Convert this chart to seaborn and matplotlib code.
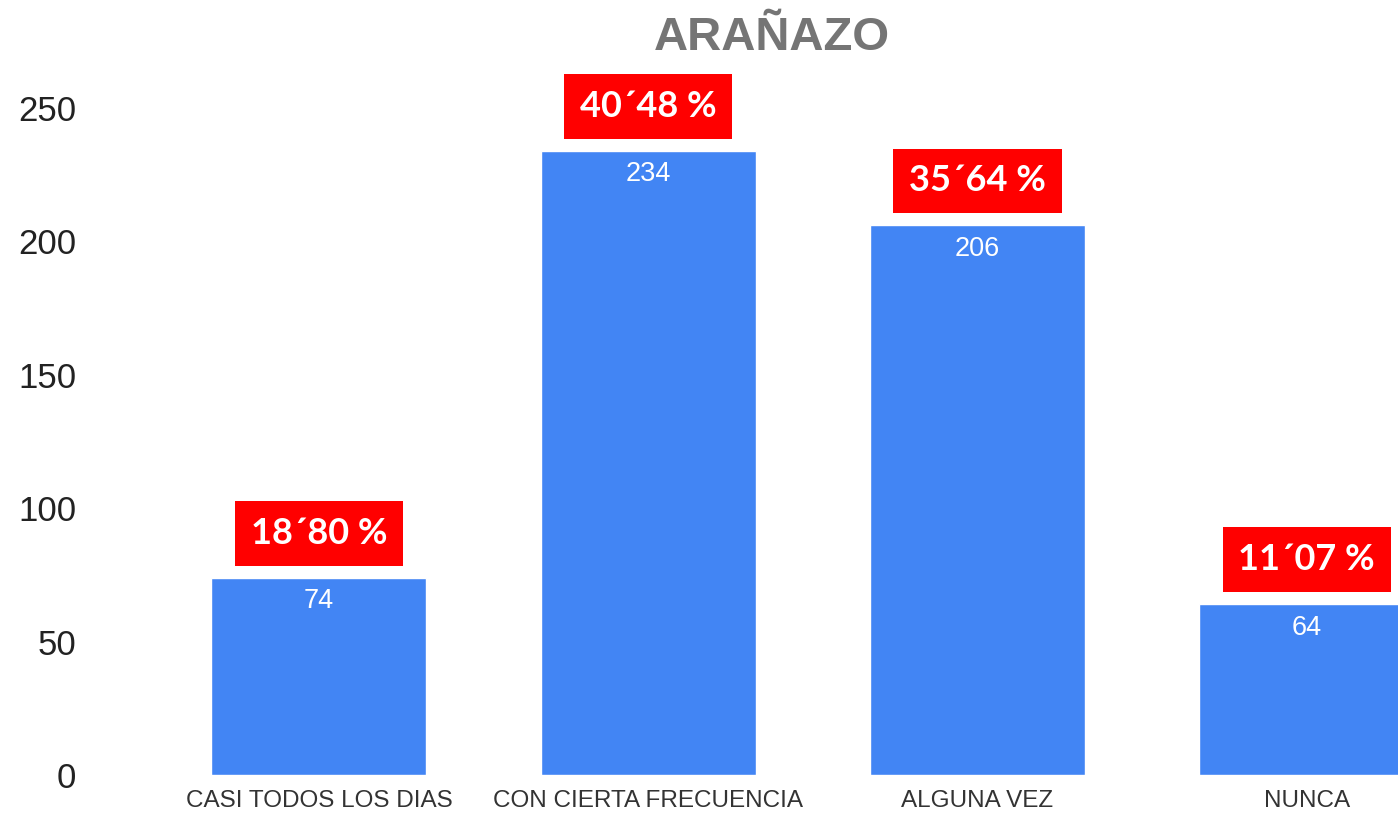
import matplotlib
matplotlib.use("Agg")
import matplotlib.pyplot as plt
import seaborn as sns
import pandas as pd

categorias = ["CASI TODOS LOS DIAS", "CON CIERTA FRECUENCIA", "ALGUNA VEZ", "NUNCA"]
respuestas = [74, 234, 206, 64]
porcentajes = ["18´80 %", "40´48 %", "35´64 %", "11´07 %"]
y_ticks = [0, 50, 100, 150, 200, 250]

df = pd.DataFrame({"categoria": categorias, "respuestas": respuestas})

sns.set_style("white")
plt.rcParams["font.family"] = ["Liberation Sans", "DejaVu Sans"]

fig = plt.figure(figsize=(13.98, 8.17), dpi=100)
ax = fig.add_axes([100 / 1398, 42 / 817, 1298 / 1398, 715 / 817])

sns.barplot(data=df, x="categoria", y="respuestas", color="#4285F4",
            saturation=1, width=0.653, ax=ax)

ax.set_xlim(-0.665, 3.277)
ax.set_ylim(0, 268)
ax.set_yticks(y_ticks)
ax.set_xlabel("")
ax.set_ylabel("")
sns.despine(ax=ax, left=True, bottom=True)
ax.tick_params(axis="y", length=0, pad=17, labelsize=25, labelcolor="#222222")
ax.tick_params(axis="x", length=0, pad=11, labelsize=17.5, labelcolor="#333333")

# valores dentro de las barras
for i, v in enumerate(respuestas):
    ax.annotate(str(v), xy=(i, v), xytext=(0, -17), textcoords="offset points",
                ha="center", va="center", color="white", fontsize=19.5)

# cajas rojas con el porcentaje
for i, (v, p) in enumerate(zip(respuestas, porcentajes)):
    ax.annotate(p, xy=(i, v), xytext=(0, 32), textcoords="offset points",
                ha="center", va="center", color="white", fontsize=26,
                fontweight="bold", family=["Lato", "DejaVu Sans"],
                bbox=dict(boxstyle="square,pad=0.44", fc="#FF0000", ec="none"),
                annotation_clip=False)

fig.text(771.5 / 1398, 1 - 38 / 817, "ARAÑAZO", ha="center", va="center",
         fontsize=34, fontweight="bold", color="#757575")

fig.savefig("out.png", dpi=100)
